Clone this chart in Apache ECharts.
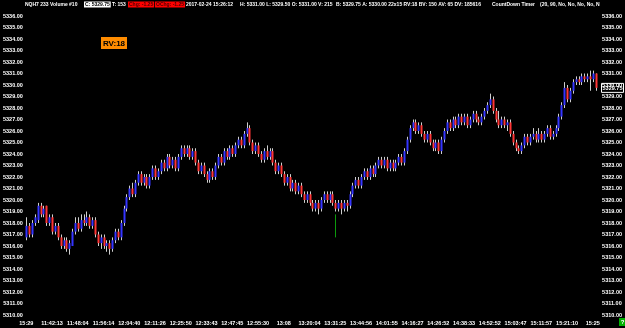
<!DOCTYPE html>
<html><head><meta charset="utf-8">
<script src="https://cdn.jsdelivr.net/npm/echarts@6/dist/echarts.min.js"></script>
<style>html,body{margin:0;padding:0;background:#000;}#c{width:625px;height:328px;}</style>
</head><body><div id="c"></div>
<script>
// bars: [open, close, low, high]
const bars = [
[5316.75,5317.75,5316.5,5318.5],[5317.75,5317.0,5316.75,5318.0],[5317.0,5318.0,5316.75,5318.25],[5318.0,5318.5,5317.75,5318.75],[5318.25,5319.5,5318.0,5319.75],
[5319.5,5318.75,5318.5,5319.75],[5318.75,5319.25,5318.5,5319.5],[5319.5,5318.0,5317.75,5319.5],[5318.0,5318.5,5317.75,5318.75],[5318.5,5317.25,5317.0,5318.75],
[5317.25,5317.75,5317.0,5318.0],[5317.75,5316.75,5316.5,5318.0],[5316.75,5316.0,5315.75,5317.0],[5316.0,5316.5,5315.75,5316.75],[5316.5,5315.75,5315.5,5316.75],
[5315.75,5316.25,5315.25,5316.5],[5316.0,5317.25,5316.0,5317.5],[5317.25,5318.0,5317.0,5318.5],[5318.0,5317.5,5317.25,5318.5],[5317.5,5318.25,5317.25,5318.75],
[5318.25,5318.0,5317.75,5318.75],[5318.0,5318.5,5317.75,5319.0],[5318.5,5317.75,5317.5,5318.75],[5317.75,5318.25,5317.5,5318.5],[5318.25,5317.0,5316.75,5318.5],
[5317.0,5316.25,5316.0,5317.25],[5316.25,5316.75,5315.75,5317.0],[5316.75,5316.0,5315.75,5317.0],[5316.0,5316.25,5315.5,5316.5],[5316.25,5315.75,5315.25,5316.5],
[5315.75,5316.5,5315.5,5316.75],[5316.5,5317.25,5316.25,5317.5],[5317.25,5316.75,5316.5,5317.5],[5316.75,5318.0,5316.5,5318.25],[5318.0,5319.25,5317.75,5319.5],
[5319.25,5320.25,5319.0,5320.5],[5320.25,5321.0,5320.0,5321.25],[5321.0,5320.5,5320.25,5321.5],[5320.5,5321.5,5320.25,5321.75],[5321.5,5322.25,5321.25,5322.5],
[5322.25,5321.5,5321.25,5322.5],[5321.5,5322.0,5321.25,5322.25],[5322.0,5321.25,5321.0,5322.25],[5321.25,5322.0,5321.0,5322.25],[5322.0,5322.75,5321.75,5323.0],
[5322.75,5322.0,5321.75,5323.0],[5322.0,5322.5,5321.75,5322.75],[5322.5,5323.25,5322.25,5323.5],[5323.25,5322.75,5322.5,5323.5],[5322.75,5323.75,5322.5,5324.0],
[5323.75,5323.0,5322.75,5324.0],[5323.0,5323.5,5322.75,5323.75],[5323.5,5322.75,5322.5,5323.75],[5322.75,5323.75,5322.5,5324.0],[5323.75,5324.5,5323.5,5324.75],
[5324.5,5324.0,5323.75,5324.75],[5324.0,5324.5,5323.75,5324.75],[5324.5,5323.75,5323.5,5324.75],[5323.75,5324.25,5323.5,5324.5],[5324.25,5323.25,5323.0,5324.5],
[5323.25,5322.5,5322.25,5323.5],[5322.5,5323.0,5322.25,5323.25],[5323.0,5322.25,5322.0,5323.25],[5322.25,5321.75,5321.5,5322.5],[5321.75,5322.5,5321.5,5322.75],
[5322.5,5322.0,5321.75,5322.75],[5322.0,5323.0,5321.75,5323.25],[5323.0,5323.75,5322.75,5324.0],[5323.75,5323.25,5323.0,5324.0],[5323.25,5324.25,5323.0,5324.5],
[5324.25,5323.75,5323.5,5324.5],[5323.75,5324.5,5323.5,5324.75],[5324.5,5324.0,5323.75,5324.75],[5324.0,5324.75,5323.75,5325.0],[5324.75,5325.25,5324.5,5325.5],
[5325.25,5324.75,5324.5,5325.5],[5324.75,5325.75,5324.5,5326.0],[5325.75,5326.25,5325.5,5326.75],[5326.25,5325.0,5324.75,5326.5],[5325.0,5324.25,5324.0,5325.25],
[5324.25,5324.75,5324.0,5325.0],[5324.75,5324.0,5323.75,5325.0],[5324.0,5323.5,5323.25,5324.25],[5323.5,5324.25,5323.25,5324.5],[5324.25,5323.75,5323.5,5324.75],
[5323.75,5324.25,5323.5,5324.5],[5324.25,5323.25,5323.0,5324.5],[5323.25,5322.5,5322.25,5323.5],[5322.5,5323.0,5322.25,5323.25],[5323.0,5322.25,5322.0,5323.25],
[5322.25,5321.5,5321.25,5322.5],[5321.5,5322.0,5321.25,5322.25],[5322.0,5321.0,5320.75,5322.25],[5321.0,5321.5,5320.75,5321.75],[5321.5,5320.75,5320.5,5321.75],
[5320.75,5321.25,5320.5,5321.5],[5321.25,5320.5,5320.25,5321.5],[5320.5,5320.0,5319.75,5320.75],[5320.0,5320.5,5319.75,5320.75],[5320.5,5319.75,5319.5,5320.75],
[5319.75,5319.25,5319.0,5320.0],[5319.25,5319.75,5319.0,5320.0],[5319.75,5319.25,5318.75,5320.0],[5319.25,5320.0,5319.0,5320.25],[5320.0,5320.5,5319.75,5320.75],
[5320.5,5320.0,5319.75,5320.75],[5320.0,5320.5,5319.75,5320.75],[5320.5,5319.75,5319.5,5320.75],[5319.75,5319.25,5319.0,5320.0],[5319.25,5319.75,5319.0,5320.0],
[5319.75,5319.25,5318.75,5320.0],[5319.25,5319.75,5319.0,5320.0],[5319.75,5319.5,5319.0,5320.0],[5319.5,5320.5,5319.25,5320.75],[5320.5,5321.25,5320.25,5321.5],
[5321.25,5321.75,5321.0,5322.0],[5321.75,5321.25,5321.0,5322.0],[5321.25,5322.0,5321.0,5322.25],[5322.0,5322.5,5321.75,5322.75],[5322.5,5322.0,5321.75,5322.75],
[5322.0,5322.75,5321.75,5323.0],[5322.75,5322.25,5322.0,5323.0],[5322.25,5323.0,5322.0,5323.25],[5323.0,5323.5,5322.75,5323.75],[5323.5,5323.0,5322.75,5323.75],
[5323.0,5323.5,5322.75,5323.75],[5323.5,5322.75,5322.5,5323.75],[5322.75,5323.25,5322.5,5323.5],[5323.25,5322.75,5322.5,5323.5],[5322.75,5323.25,5322.5,5323.5],
[5323.25,5323.75,5323.0,5324.0],[5323.75,5323.25,5323.0,5324.0],[5323.25,5324.25,5323.0,5324.5],[5324.25,5325.25,5324.0,5325.5],[5325.25,5326.25,5325.0,5326.5],
[5326.25,5326.75,5326.0,5327.0],[5326.75,5326.0,5325.75,5327.0],[5326.0,5326.5,5325.75,5326.75],[5326.5,5325.75,5325.5,5326.75],[5325.75,5325.25,5325.0,5326.0],
[5325.25,5325.75,5325.0,5326.0],[5325.75,5325.0,5324.75,5326.0],[5325.0,5324.5,5324.25,5325.25],[5324.5,5325.0,5324.25,5325.25],[5325.0,5324.25,5324.0,5325.25],
[5324.25,5325.25,5324.0,5325.5],[5325.25,5326.0,5325.0,5326.25],[5326.0,5326.75,5325.75,5327.0],[5326.75,5326.25,5326.0,5327.0],[5326.25,5327.0,5326.0,5327.25],
[5327.0,5326.5,5326.25,5327.25],[5326.5,5327.25,5326.25,5327.5],[5327.25,5326.75,5326.5,5327.5],[5326.75,5327.25,5326.5,5327.5],[5327.25,5326.5,5326.25,5327.5],
[5326.5,5327.0,5326.25,5327.25],[5327.0,5327.5,5326.75,5327.75],[5327.5,5327.0,5326.75,5327.75],[5327.0,5326.75,5326.5,5327.25],[5326.75,5327.25,5326.5,5327.5],
[5327.25,5327.75,5327.0,5328.0],[5327.75,5328.25,5327.5,5328.5],[5328.25,5328.75,5328.0,5329.25],[5328.75,5327.75,5327.5,5329.0],[5327.75,5327.0,5326.75,5328.0],
[5327.0,5326.5,5326.25,5327.75],[5326.5,5327.0,5326.25,5327.25],[5327.0,5326.5,5326.25,5327.25],[5326.5,5326.75,5326.0,5327.0],[5326.75,5325.75,5325.5,5327.0],
[5325.75,5325.0,5324.75,5326.0],[5325.0,5324.5,5324.25,5325.25],[5324.5,5324.25,5324.0,5324.75],[5324.25,5324.75,5324.0,5325.0],[5324.75,5325.5,5324.5,5325.75],
[5325.5,5325.0,5324.75,5325.75],[5325.0,5325.5,5324.75,5325.75],[5325.5,5325.75,5325.25,5326.25],[5325.75,5325.25,5325.0,5326.0],[5325.25,5325.75,5325.0,5326.25],
[5325.75,5325.25,5325.0,5326.0],[5325.25,5325.75,5325.0,5326.0],[5325.75,5326.25,5325.5,5326.5],[5326.25,5325.5,5325.25,5326.5],[5325.5,5325.75,5325.25,5326.0],
[5325.75,5326.25,5325.5,5326.5],[5326.25,5327.25,5326.0,5327.5],[5327.25,5328.25,5327.0,5328.5],[5328.25,5329.75,5328.0,5330.25],[5329.75,5328.75,5328.5,5330.0],
[5328.75,5329.5,5328.5,5329.75],[5329.5,5330.25,5329.25,5330.5],[5330.25,5330.5,5330.0,5330.75],[5330.5,5330.25,5330.0,5330.75],[5330.25,5330.75,5330.0,5331.0],
[5330.75,5330.5,5330.25,5331.0],[5330.5,5330.75,5330.25,5331.0],[5330.75,5330.5,5329.5,5331.25],[5330.5,5331.0,5330.25,5331.25],[5331.0,5329.75,5329.5,5331.0]
];
const timeLabels = ["15:29","11:42:13","11:48:04","11:56:14","12:04:40","12:11:26","12:25:50","12:33:43","12:47:45","12:55:30","13:08","13:20:04","13:31:25","13:44:56","14:01:55","14:16:27","14:26:52","14:38:33","14:52:52","15:03:47","15:11:57","15:21:10","15:25"];
const labelEvery = 9;
const priceMin = 5310, priceMax = 5336;
const lastPrice = 5329.75;
const greenMark = [108, 5316.75, 5318.75];
const headerParts = [
  {t:"NQH7 233 Volume #10", x:25, s:"p"},
  {t:"C: 5329.75", x:84, s:"w"},
  {t:"T: 153", x:112, s:"p"},
  {t:"Chg: -1.25", x:128, s:"r"},
  {t:"OChg: -1.25", x:155, s:"r"},
  {t:"2017-02-24 15:26:12", x:186, s:"p"},
  {t:"H: 5331.00 L: 5329.50 O: 5331.00 V: 215", x:240, s:"p"},
  {t:"B: 5329.75 A: 5330.00 22x15 RV:18 BV: 150 AV: 65 DV: 185616", x:336, s:"p"},
  {t:"CountDown Timer", x:492, s:"p"},
  {t:"(20, 90, No, No, No, No, N", x:540, s:"p"}
];

const FONT = '"Liberation Sans", Arial, sans-serif';
const chart = echarts.init(document.getElementById('c'), null, {renderer:'canvas'});
const cats = bars.map((b,i)=>String(i));
const candleData = bars.map((b,i)=>[i,b[0],b[1],b[2],b[3]]);

function renderCandle(params, api){
  const i = api.value(0);
  const o = api.value(1), c = api.value(2), l = api.value(3), h = api.value(4);
  const pO = api.coord([i,o]), pC = api.coord([i,c]), pL = api.coord([i,l]), pH = api.coord([i,h]);
  const x = Math.round(pO[0]);
  const w = 2;
  const up = c >= o;
  const top = Math.min(pO[1],pC[1]);
  const hh = Math.max(1, Math.abs(pO[1]-pC[1]));
  return {type:'group', children:[
    {type:'line', shape:{x1:x+0.5, y1:pH[1], x2:x+0.5, y2:pL[1]}, style:{stroke:'#cfcfcf', lineWidth:1}},
    {type:'rect', shape:{x:x-0.5, y:top, width:w, height:hh}, style:{fill: up ? '#3434ff' : '#ff3434'}}
  ]};
}
function renderGreen(params, api){
  const a = api.coord([api.value(0), api.value(1)]);
  const b = api.coord([api.value(0), api.value(2)]);
  const x = Math.round(a[0]) + 0.5;
  return {type:'line', shape:{x1:x, y1:a[1], x2:x, y2:b[1]}, style:{stroke:'#0c9a0c', lineWidth:1}};
}

const yBase = {
  type:'value', min:priceMin, max:priceMax, interval:1,
  splitLine:{show:false}, axisLine:{show:false}, axisTick:{show:false},
  axisLabel:{color:'#ffffff', fontSize:5.5, fontWeight:'bold', fontFamily:FONT, formatter:v=>v.toFixed(2)}
};

const graphics = headerParts.map(p=>{
  const st = {text:p.t, x:p.x, y:4.5, fontSize:5.0, fontWeight:'bold', fontFamily:FONT, verticalAlign:'middle', fill:'#ffffff'};
  if(p.s==='w'){ st.fill='#000000'; st.backgroundColor='#ffffff'; st.padding=[1,1,0,1]; }
  if(p.s==='r'){ st.fill='#4a0000'; st.backgroundColor='#ff0000'; st.padding=[1,1,0,1]; }
  return {type:'text', style:st, z:10};
});
graphics.push({type:'group', left:101, top:37, children:[
  {type:'rect', shape:{x:0,y:0,width:26,height:12}, style:{fill:'#ff8c00'}},
  {type:'text', style:{text:'RV:18', x:13, y:6.5, align:'center', verticalAlign:'middle', fontSize:8, fontWeight:'bold', fontFamily:FONT, fill:'#000'}}
]});
graphics.push({type:'group', left:619, top:318, children:[
  {type:'rect', shape:{x:0,y:0,width:7,height:8}, style:{fill:'#00b000'}},
  {type:'text', style:{text:'?', x:3.5, y:4.5, align:'center', verticalAlign:'middle', fontSize:6, fontWeight:'bold', fontFamily:FONT, fill:'#fff'}}
]});

chart.setOption({
  backgroundColor:'#000000',
  animation:false,
  grid:{left:23.6, right:27.7, top:16, bottom:13},
  xAxis:{type:'category', data:cats, boundaryGap:true,
    axisLine:{show:false}, axisTick:{show:false}, splitLine:{show:false},
    axisLabel:{color:'#ffffff', fontSize:5.5, fontWeight:'bold', fontFamily:FONT, margin:5,
      interval:(i)=> i % labelEvery === 0,
      formatter:(v, i)=> timeLabels[Math.round(i/labelEvery)] || ''}
  },
  yAxis:[
    Object.assign({}, yBase, {position:'left', axisLabel:Object.assign({}, yBase.axisLabel, {margin:2})}),
    Object.assign({}, yBase, {position:'right', axisLabel:Object.assign({}, yBase.axisLabel, {margin:5})})
  ],
  series:[
    {type:'custom', renderItem:renderCandle, data:candleData, encode:{x:0, y:[1,2,3,4]}, clip:false},
    {type:'custom', renderItem:renderGreen, data:[greenMark], encode:{x:0, y:[1,2]}}
  ],
  graphic:graphics
});

const lp = chart.convertToPixel({yAxisIndex:1}, lastPrice);
chart.setOption({graphic: graphics.concat([{type:'group', left:601, top:lp-5, z:20, children:[
  {type:'rect', shape:{x:0,y:0,width:22,height:9}, style:{fill:'#000', stroke:'#ffffff', lineWidth:1}},
  {type:'text', style:{text:lastPrice.toFixed(2), x:11, y:5, align:'center', verticalAlign:'middle', fontSize:5.5, fontWeight:'bold', fontFamily:FONT, fill:'#fff'}}
]}])});
</script></body></html>
